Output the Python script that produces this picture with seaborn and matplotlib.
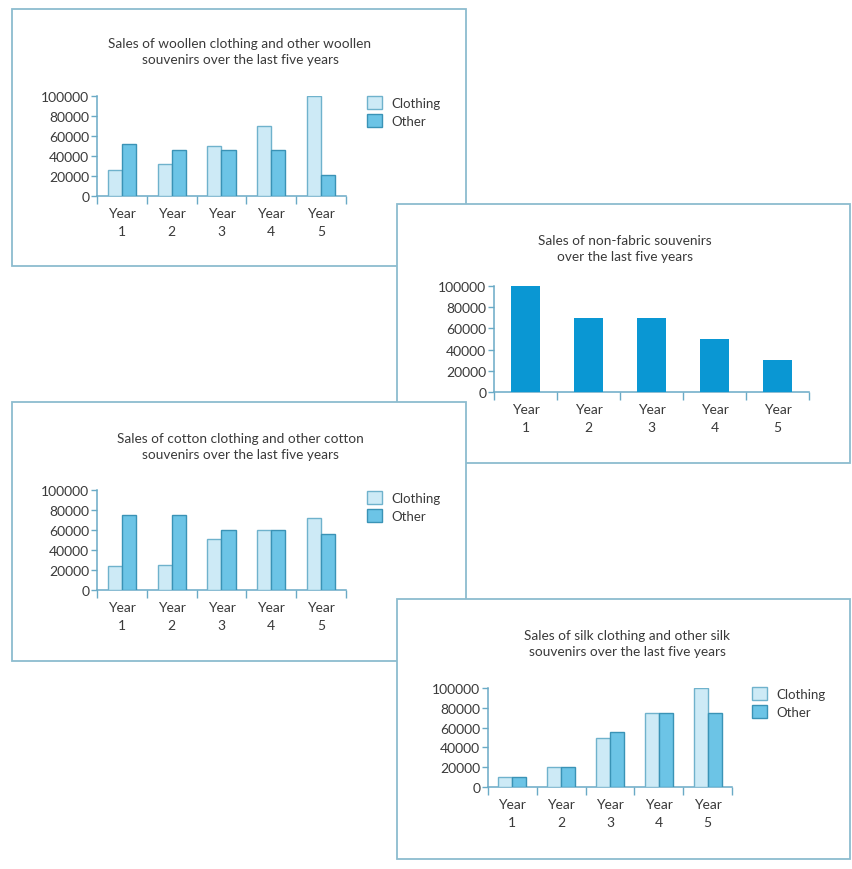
import matplotlib
matplotlib.use("Agg")
import matplotlib.pyplot as plt
import seaborn as sns
import pandas as pd
from matplotlib.patches import Rectangle, Patch

# ---------------- data ----------------
years = ["Year\n1", "Year\n2", "Year\n3", "Year\n4", "Year\n5"]
y_ticks = [0, 20000, 40000, 60000, 80000, 100000]
y_tick_labels = ["0", "20000", "40000", "60000", "80000", "100000"]
series_names = ["Clothing", "Other"]

woollen_clothing = [26000, 32000, 50000, 70000, 100000]
woollen_other = [52000, 46000, 46000, 46000, 21000]
nonfabric_sales = [100000, 70000, 70000, 50000, 30000]
cotton_clothing = [24000, 25000, 51000, 60000, 72000]
cotton_other = [75000, 75000, 60000, 60000, 56000]
silk_clothing = [10000, 20000, 49000, 75000, 100000]
silk_other = [10000, 20000, 56000, 75000, 75000]

title_woollen = "Sales of woollen clothing and other woollen\nsouvenirs over the last five years"
title_nonfabric = "Sales of non-fabric souvenirs\nover the last five years"
title_cotton = "Sales of cotton clothing and other cotton\nsouvenirs over the last five years"
title_silk = "Sales of silk clothing and other silk\nsouvenirs over the last five years"

# ---------------- style ----------------
FONT = ["Lato", "DejaVu Sans"]
plt.rcParams["font.family"] = FONT
TEXT = "#3a3a3a"
AXIS = "#6aaac6"
BOX = "#8cbccf"
CLOTH_FC, CLOTH_EC = "#cdeaf6", "#6fb2cc"
OTHER_FC, OTHER_EC = "#6cc4e6", "#3a93b6"
SOLID = "#0a97d3"

W, H = 853, 870
fig = plt.figure(figsize=(W / 100, H / 100), dpi=100)
fig.patch.set_facecolor("white")


def frect(x0, y0, x1, y1):
    return [x0 / W, 1 - y1 / H, (x1 - x0) / W, (y1 - y0) / H]


def panel(z, box, title, title_xy, plot, values, width, legend_xy=None):
    bx0, by0, bx1, by1 = box
    fig.add_artist(Rectangle((bx0 / W, 1 - by1 / H), (bx1 - bx0) / W, (by1 - by0) / H,
                             transform=fig.transFigure, facecolor="white",
                             edgecolor=BOX, lw=1.3, zorder=z))
    fig.text(title_xy[0] / W, 1 - title_xy[1] / H, title, ha="center", va="center",
             fontsize=9.8, color=TEXT, linespacing=1.38, zorder=z + 0.5)
    ax = fig.add_axes(frect(*plot))
    ax.set_zorder(z + 1)
    ax.patch.set_alpha(0)

    if len(values) == 2:
        df = pd.DataFrame({
            "year": years * 2,
            "sales": list(values[0]) + list(values[1]),
            "type": [series_names[0]] * 5 + [series_names[1]] * 5,
        })
        sns.barplot(data=df, x="year", y="sales", hue="type", order=years,
                    hue_order=series_names, palette=[CLOTH_FC, OTHER_FC],
                    saturation=1, width=width, linewidth=1.0, legend=False,
                    ax=ax, zorder=3)
        for cont, ec in zip(ax.containers, [CLOTH_EC, OTHER_EC]):
            for b in cont:
                b.set_edgecolor(ec)
        handles = [Patch(facecolor=CLOTH_FC, edgecolor=CLOTH_EC, lw=1.0, label=series_names[0]),
                   Patch(facecolor=OTHER_FC, edgecolor=OTHER_EC, lw=1.0, label=series_names[1])]
        ax.legend(handles=handles, loc="upper left",
                  bbox_to_anchor=(legend_xy[0] / W, 1 - legend_xy[1] / H),
                  bbox_transform=fig.transFigure, frameon=False, fontsize=9.5,
                  handlelength=1.15, handleheight=1.15, handletextpad=0.7,
                  labelspacing=0.4, borderaxespad=0, borderpad=0, labelcolor=TEXT)
    else:
        df = pd.DataFrame({"year": years, "sales": values[0]})
        sns.barplot(data=df, x="year", y="sales", color=SOLID, saturation=1,
                    width=width, linewidth=0, ax=ax, zorder=3)

    ax.set_xlim(-0.5, 4.5)
    ax.set_ylim(0, 100000)
    ax.set_yticks(y_ticks)
    ax.set_yticklabels(y_tick_labels)
    ax.set_xticks(range(5))
    ax.set_xticklabels(years, linespacing=1.55)
    ax.set_xticks([i - 0.5 for i in range(6)], minor=True)
    ax.set_xlabel("")
    ax.set_ylabel("")
    for s in ["top", "right"]:
        ax.spines[s].set_visible(False)
    for s in ["left", "bottom"]:
        ax.spines[s].set_color(AXIS)
        ax.spines[s].set_linewidth(1.1)
    ax.tick_params(axis="y", length=4, width=1.0, color=AXIS, pad=1.5,
                   labelsize=10, labelcolor=TEXT)
    ax.tick_params(axis="x", which="major", length=0, pad=8, labelsize=10,
                   labelcolor=TEXT)
    ax.tick_params(axis="x", which="minor", length=6, width=1.0, color=AXIS)
    ax.grid(False)
    return ax


panel(0, (12, 10, 466, 267), title_woollen, (240, 52), (97, 97, 346, 197),
      [woollen_clothing, woollen_other], 0.57, legend_xy=(367, 97))
panel(3, (397, 205, 850, 464), title_nonfabric, (625, 249), (494, 287, 809, 393),
      [nonfabric_sales], 0.45)
panel(6, (12, 403, 466, 662), title_cotton, (240, 447), (97, 491, 346, 591),
      [cotton_clothing, cotton_other], 0.57, legend_xy=(367, 492))
panel(9, (397, 600, 850, 860), title_silk, (627, 644), (488, 689, 732, 788),
      [silk_clothing, silk_other], 0.57, legend_xy=(752, 688))

fig.savefig("out.png", dpi=100, facecolor="white")
